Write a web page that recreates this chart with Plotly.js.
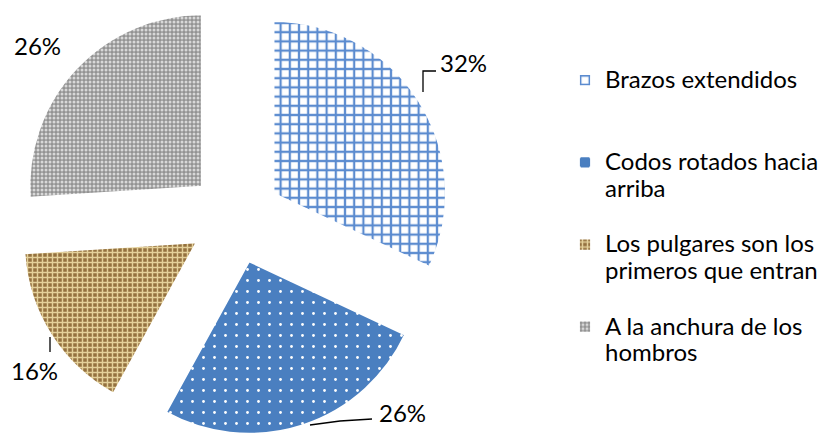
<!DOCTYPE html>
<html>
<head>
<meta charset="utf-8">
<script src="https://cdn.plot.ly/plotly-3.0.1.min.js"></script>
<style>
  html, body { margin: 0; padding: 0; background: #ffffff; }
  #chart { width: 834px; height: 439px; }
</style>
</head>
<body>
<div id="chart"></div>
<script>
// ---- data ----
const categories = [
  "Brazos extendidos",
  "Codos rotados hacia<br>arriba",
  "Los pulgares son los<br>primeros que entran",
  "A la anchura de los<br>hombros"
];
const values = [32, 26, 16, 26];
const percentLabels = values.map(v => v + "%");

// ---- styling ----
const W = 834, H = 439;
const px = (x) => x / W;
const py = (y) => 1 - y / H;
const FONT = "Lato, 'Liberation Sans', sans-serif";

// legend entries: larger glyphs, fixed three-line slots for Office-like spacing
const legendLabels = categories.map(c => {
  const lines = c.split("<br>").map(s => '<span style="font-size:24px">' + s + '</span>');
  while (lines.length < 3) lines.push("&nbsp;");
  return lines.join("<br>");
});

const trace = {
  type: "pie",
  labels: legendLabels,
  values: values,
  sort: false,
  direction: "clockwise",
  rotation: 0,
  pull: [0.265, 0.265, 0.265, 0.265],
  textinfo: "none",
  hoverinfo: "percent",
  domain: { x: [0, 0.5636], y: [0.007, 1] },
  marker: {
    colors: ["#ffffff", "#4a7fc0", "#a98a53", "#a6a6a6"],
    line: { color: "#ffffff", width: 1.8 },
    pattern: {
      shape: ["+", ".", "+", "."],
      bgcolor: ["#ffffff", "#4a7fc0", "#94713f", "#939393"],
      fgcolor: ["#5b8bcf", "#ffffff", "#e4d09a", "#d8d8d8"],
      size: [9.2, 11, 5, 4],
      solidity: [0.42, 0.05, 0.5, 0.45],
      fillmode: "replace"
    }
  },
  showlegend: true
};

const labelPos = [[463, 63], [402, 412], [34, 370], [37, 45]];
const annotations = percentLabels.map((t, i) => ({
  xref: "paper", yref: "paper",
  x: px(labelPos[i][0]), y: py(labelPos[i][1]),
  xanchor: "center", yanchor: "middle",
  text: t, showarrow: false,
  font: { family: FONT, size: 24, color: "#000000" }
}));

const leaders = [
  [[423, 92], [423, 71], [436, 71]],
  [[310, 425], [340, 421], [372, 419]],
  [[50, 337], [50, 352]]
];
const shapes = leaders.map(pts => ({
  type: "path", xref: "paper", yref: "paper",
  path: pts.map((p, k) => (k ? "L" : "M") + px(p[0]) + "," + py(p[1])).join(" "),
  line: { color: "#000000", width: 1.3 }
}));

const layout = {
  width: W, height: H,
  margin: { l: 0, r: 0, t: 0, b: 0, pad: 0 },
  paper_bgcolor: "#ffffff",
  plot_bgcolor: "#ffffff",
  showlegend: true,
  legend: {
    x: px(565), y: py(60.5), xanchor: "left", yanchor: "top",
    valign: "top",
    font: { family: FONT, size: 20.3, color: "#000000" },
    bgcolor: "rgba(0,0,0,0)"
  },
  annotations: annotations,
  shapes: shapes
};

Plotly.newPlot("chart", [trace], layout, { displayModeBar: false, staticPlot: true });
</script>
</body>
</html>
